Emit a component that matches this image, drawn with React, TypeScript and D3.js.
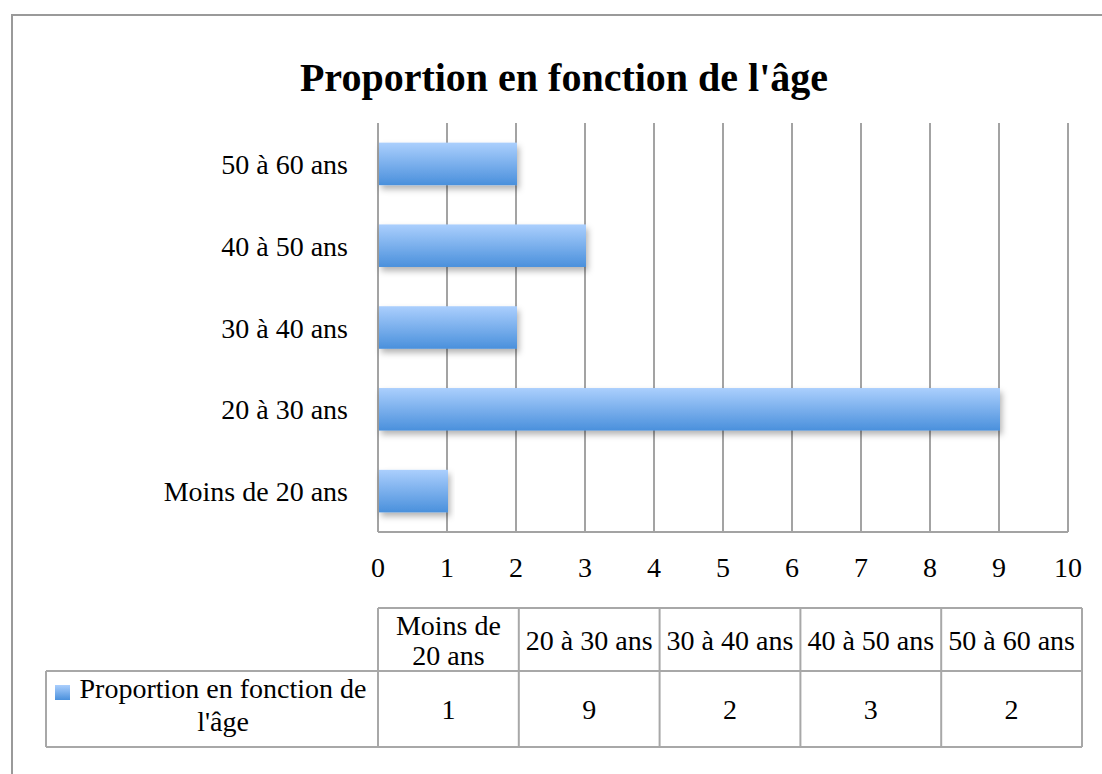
import React, { useEffect, useRef } from 'react';
import * as d3 from 'd3';

const categories = ['Moins de 20 ans', '20 à 30 ans', '30 à 40 ans', '40 à 50 ans', '50 à 60 ans'];
const headerLines = [['Moins de', '20 ans'], ['20 à 30 ans'], ['30 à 40 ans'], ['40 à 50 ans'], ['50 à 60 ans']];
const values = [1, 9, 2, 3, 2];
const xTicks = [0, 1, 2, 3, 4, 5, 6, 7, 8, 9, 10];
const seriesName = 'Proportion en fonction de l\'âge';
const legendLines = ['Proportion en fonction de', 'l\'âge'];
const title = 'Proportion en fonction de l\'âge';

const FONT = '"Liberation Serif", "Times New Roman", serif';
const FS = 28;

const App = () => {
  const ref = useRef(null);

  useEffect(() => {
    const svg = d3.select(ref.current);
    svg.selectAll('*').remove();

    const W = 1102, H = 774;
    const left = 378, right = 1068, top = 123, bottom = 532;

    const defs = svg.append('defs');
    const grad = defs.append('linearGradient').attr('id', 'barGrad')
      .attr('x1', 0).attr('y1', 0).attr('x2', 0).attr('y2', 1);
    grad.append('stop').attr('offset', '0%').attr('stop-color', '#abcffd');
    grad.append('stop').attr('offset', '100%').attr('stop-color', '#4a90dc');
    const sh = defs.append('filter').attr('id', 'shadow')
      .attr('x', '-5%').attr('y', '-20%').attr('width', '115%').attr('height', '160%');
    sh.append('feDropShadow').attr('dx', 2).attr('dy', 4).attr('stdDeviation', 3)
      .attr('flood-color', '#000').attr('flood-opacity', 0.3);

    // outer frame
    svg.append('path').attr('d', `M12,${H + 5}V15H${W + 5}`)
      .attr('fill', 'none').attr('stroke', '#9a9a9a').attr('stroke-width', 2);

    svg.append('text').attr('x', 564).attr('y', 91).attr('text-anchor', 'middle')
      .attr('font-family', FONT).attr('font-weight', 'bold').attr('font-size', 40)
      .attr('fill', '#000').text(title);

    const x = d3.scaleLinear().domain([0, 10]).range([left, right]);
    const y = d3.scaleBand().domain([...categories].reverse()).range([top, bottom]).paddingInner(0.48).paddingOuter(0.24);

    // gridlines
    svg.append('g').selectAll('line').data(xTicks).enter().append('line')
      .attr('x1', d => x(d)).attr('x2', d => x(d)).attr('y1', top).attr('y2', bottom)
      .attr('stroke', '#a3a3a3').attr('stroke-width', 2);
    svg.append('line').attr('x1', left).attr('x2', right).attr('y1', bottom).attr('y2', bottom)
      .attr('stroke', '#a3a3a3').attr('stroke-width', 2);

    // bars
    svg.append('g').selectAll('rect').data(categories).enter().append('rect')
      .attr('x', x(0) + 1)
      .attr('y', d => y(d))
      .attr('width', (d, i) => x(values[i]) - x(0))
      .attr('height', y.bandwidth())
      .attr('fill', 'url(#barGrad)')
      .attr('filter', 'url(#shadow)');

    // category labels
    svg.append('g').selectAll('text').data(categories).enter().append('text')
      .attr('x', 348).attr('y', d => y(d) + y.bandwidth() / 2 + 10)
      .attr('text-anchor', 'end').attr('font-family', FONT).attr('font-size', FS)
      .attr('fill', '#000').text(d => d);

    // tick labels
    svg.append('g').selectAll('text').data(xTicks).enter().append('text')
      .attr('x', d => x(d)).attr('y', 577).attr('text-anchor', 'middle')
      .attr('font-family', FONT).attr('font-size', FS).attr('fill', '#000').text(d => d);

    // data table
    const tLeft = 46, cLeft = 378, cRight = 1082, tTop = 608, hBot = 671, tBot = 747;
    const col = d3.scaleBand().domain(categories).range([cLeft, cRight]);
    const stroke = '#a8a8a8';
    const tg = svg.append('g').attr('fill', 'none').attr('stroke', stroke).attr('stroke-width', 2);
    tg.append('line').attr('x1', cLeft).attr('x2', cRight).attr('y1', tTop).attr('y2', tTop);
    tg.append('line').attr('x1', tLeft).attr('x2', cRight).attr('y1', hBot).attr('y2', hBot);
    tg.append('line').attr('x1', tLeft).attr('x2', cRight).attr('y1', tBot).attr('y2', tBot);
    tg.append('line').attr('x1', tLeft).attr('x2', tLeft).attr('y1', hBot).attr('y2', tBot);
    tg.selectAll('line.v').data([...categories, null]).enter().append('line')
      .attr('x1', d => d ? col(d) : cRight).attr('x2', d => d ? col(d) : cRight)
      .attr('y1', tTop).attr('y2', tBot);

    const hdr = svg.append('g').attr('font-family', FONT).attr('font-size', FS).attr('fill', '#000')
      .attr('text-anchor', 'middle');
    categories.forEach((c, i) => {
      const lines = headerLines[i];
      const cx = col(c) + col.bandwidth() / 2;
      const mid = (tTop + hBot) / 2 + 10;
      lines.forEach((ln, j) => {
        hdr.append('text').attr('x', cx).attr('y', mid + (j - (lines.length - 1) / 2) * 30).text(ln);
      });
      hdr.append('text').attr('x', cx).attr('y', (hBot + tBot) / 2 + 10).text(values[i]);
    });

    // legend cell
    svg.append('rect').attr('x', 55).attr('y', 685).attr('width', 15).attr('height', 15)
      .attr('fill', 'url(#barGrad)');
    legendLines.forEach((ln, j) => {
      svg.append('text').attr('x', 223).attr('y', 698 + j * 33).attr('text-anchor', 'middle')
        .attr('font-family', FONT).attr('font-size', FS).attr('fill', '#000').text(ln);
    });
    svg.append('title').text(seriesName);
  }, []);

  return (
    <svg ref={ref} width={1102} height={774}
      style={{ position: 'absolute', left: 0, top: 0, background: '#fff' }} />
  );
};

export default App;
